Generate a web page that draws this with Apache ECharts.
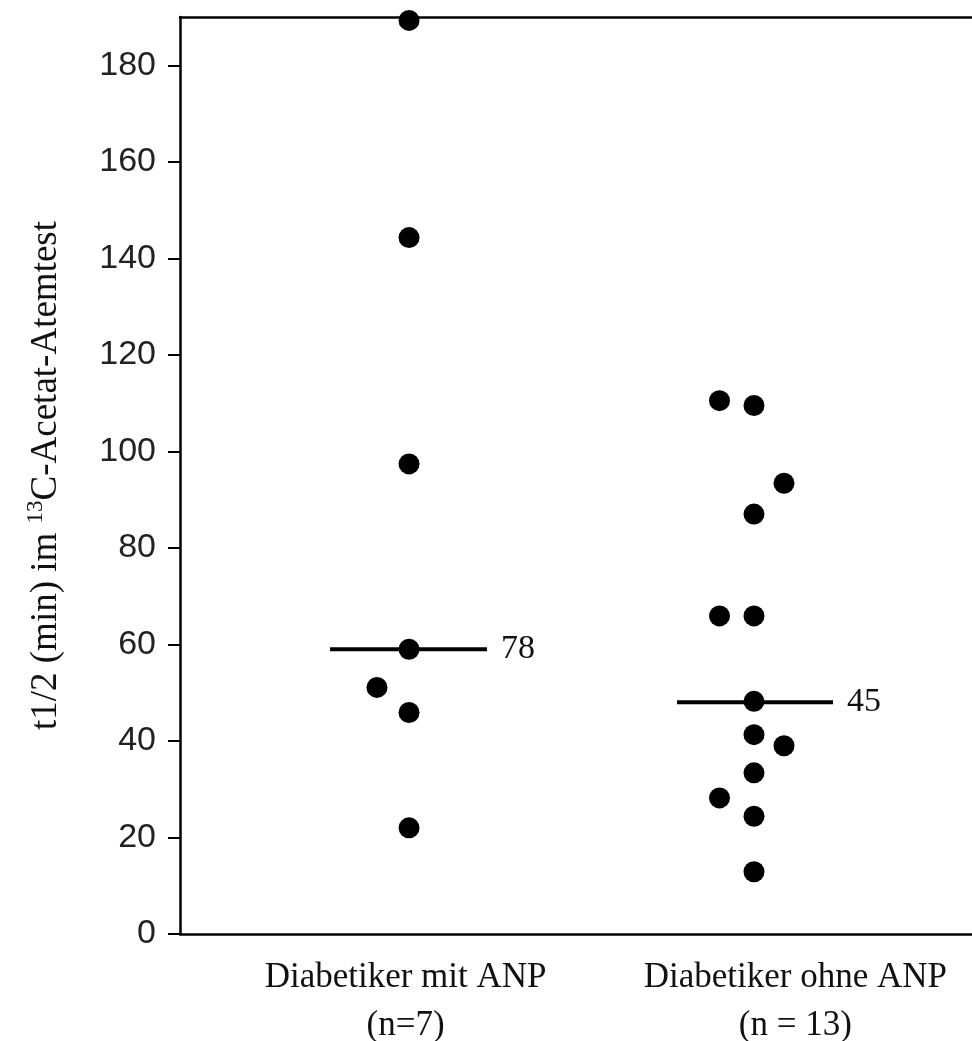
<!DOCTYPE html>
<html lang="de">
<head>
    <meta charset="UTF-8">
    <title>t1/2 13C-Acetat-Atemtest</title>
    <script src="https://cdn.jsdelivr.net/npm/echarts@6.0.0/dist/echarts.min.js"></script>
    <style>
        html, body { margin: 0; padding: 0; background: #fff; }
    </style>
</head>
<body>
    <div id="main" style="width: 972px;height:1041px;"></div>
    <script type="text/javascript">
        // groups on the x axis (1 and 2), small side offsets as in the dot plot
        const categories = ['Diabetiker mit ANP\n(n=7)', 'Diabetiker ohne ANP\n(n = 13)'];
        const categoryPos = [0.99, 2.12];
        const yTicks = [0, 20, 40, 60, 80, 100, 120, 140, 160, 180];

        // Diabetiker mit ANP
        const mitX = [1, 1, 1, 1, 0.907, 1, 1];
        const mitY = [189.3, 144.3, 97.4, 59.0, 51.1, 45.9, 22.0];
        // Diabetiker ohne ANP
        const ohneX = [1.9, 2, 2.087, 2, 1.9, 2, 2, 2, 2.087, 2, 1.9, 2, 2];
        const ohneY = [110.5, 109.5, 93.4, 87.0, 65.9, 65.9, 48.2, 41.3, 39.0, 33.4, 28.2, 24.4, 12.9];

        // horizontal marker lines with their printed labels
        const markerX = [[0.771, 1.226], [1.777, 2.229]];
        const markerY = [59.0, 48.0];
        const markerLabels = ['78', '45'];

        const serif = '"Liberation Serif", "Times New Roman", serif';
        const xMin = 0.336, xMax = 2.632;

        function zipXY(xs, ys) {
            return xs.map((x, i) => [x, ys[i]]);
        }

        const markerSeries = markerX.map((xs, i) => ({
            type: 'line',
            data: [[xs[0], markerY[i]], [xs[1], markerY[i]]],
            symbol: 'none',
            lineStyle: { color: '#000', width: 4 },
            endLabel: {
                show: true,
                distance: 14,
                formatter: markerLabels[i],
                fontFamily: serif,
                fontSize: 34,
                color: '#111'
            },
            z: 1,
            silent: true
        }));

        const dotStyle = { color: '#000', opacity: 1 };

        let options = {
            animation: false,
            backgroundColor: '#fff',
            grid: { left: 180, top: 17, right: 0, bottom: 107, outerBoundsMode: 'none' },
            xAxis: [
                {
                    type: 'value',
                    min: xMin,
                    max: xMax,
                    splitLine: { show: false },
                    axisLine: { lineStyle: { color: '#000', width: 2.5 } },
                    axisTick: { show: false },
                    axisLabel: {
                        customValues: categoryPos,
                        formatter: (v) => categories[categoryPos.indexOf(v)] || '',
                        fontFamily: serif,
                        fontSize: 35,
                        lineHeight: 48,
                        color: '#111',
                        margin: 20
                    }
                },
                {
                    // top frame line only
                    type: 'value',
                    position: 'top',
                    min: xMin,
                    max: xMax,
                    splitLine: { show: false },
                    axisLine: { show: true, lineStyle: { color: '#000', width: 2.5 } },
                    axisTick: { show: false },
                    axisLabel: { show: false }
                }
            ],
            yAxis: {
                type: 'value',
                min: 0,
                max: 190,
                splitLine: { show: false },
                axisLine: { show: true, lineStyle: { color: '#000', width: 2.5 } },
                axisTick: {
                    show: true, customValues: yTicks, length: 12,
                    lineStyle: { color: '#000', width: 2 }
                },
                axisLabel: {
                    customValues: yTicks,
                    fontFamily: '"Liberation Sans", Arial, sans-serif',
                    fontSize: 34,
                    color: '#222',
                    margin: 24
                },
                name: '{a|t1/2 (min) im }{sup|13}{a|C-Acetat-Atemtest}',
                nameLocation: 'middle',
                nameRotate: 90,
                nameGap: 112,
                nameTextStyle: {
                    rich: {
                        a: { fontFamily: serif, fontSize: 37, color: '#111', lineHeight: 44 },
                        sup: { fontFamily: serif, fontSize: 23, color: '#111', verticalAlign: 'top', lineHeight: 44 }
                    }
                }
            },
            series: [
                {
                    name: 'Diabetiker mit ANP',
                    type: 'scatter',
                    data: zipXY(mitX, mitY),
                    symbolSize: 21,
                    itemStyle: dotStyle,
                    z: 3
                },
                {
                    name: 'Diabetiker ohne ANP',
                    type: 'scatter',
                    data: zipXY(ohneX, ohneY),
                    symbolSize: 21,
                    itemStyle: dotStyle,
                    z: 3
                }
            ].concat(markerSeries)
        };

        let myChart = echarts.init(document.getElementById('main'));
        myChart.setOption(options);
    </script>
</body>
</html>
